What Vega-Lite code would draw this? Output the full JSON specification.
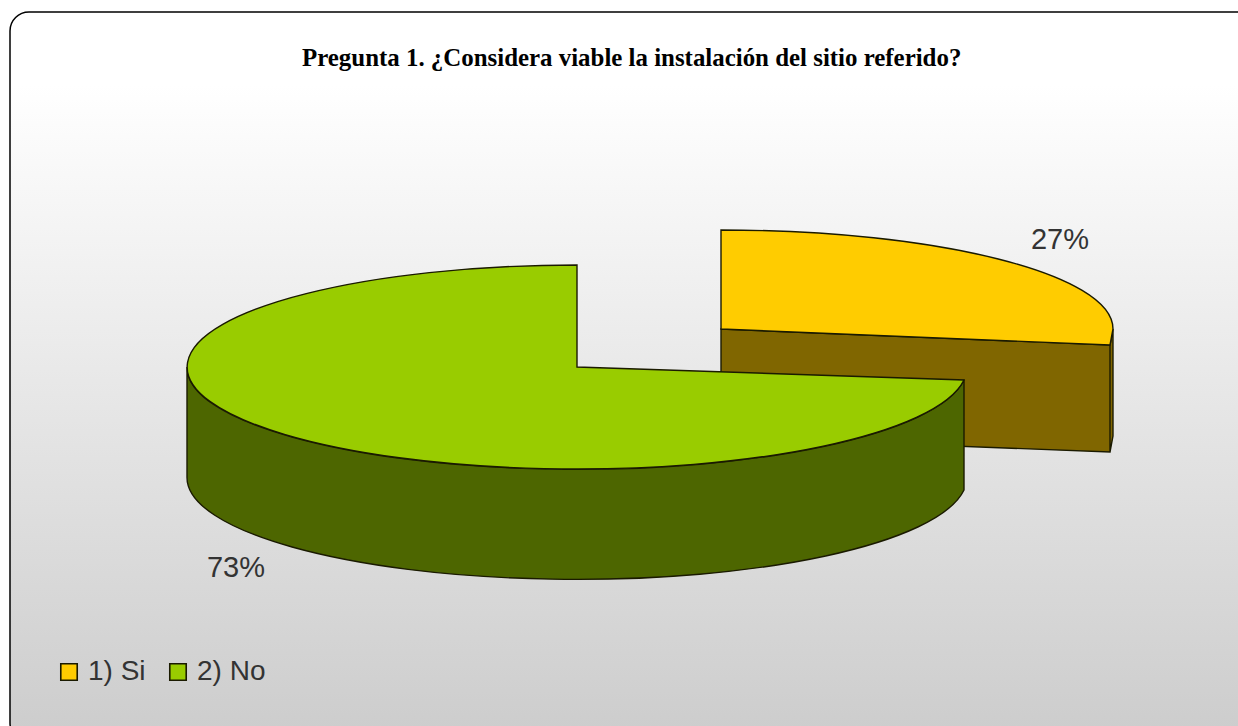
{
"$schema":"https://vega.github.io/schema/vega-lite/v6.json",
"autosize":"none",
"width":1260,"height":730,
"padding":{"left":10,"top":12,"right":-32,"bottom":-16},
"background":"white",
"view":{"stroke":"black","strokeWidth":1.5,"cornerRadius":19,"fill":{"gradient":"linear","x1":0,"y1":0,"x2":0,"y2":1,"stops":[{"offset":0,"color":"#ffffff"},{"offset":0.1,"color":"#ffffff"},{"offset":1,"color":"#cccccc"}]}},
"title":{"text":"Pregunta 1. ¿Considera viable la instalación del sitio referido?","font":"Liberation Serif","fontWeight":"bold","fontSize":24.9,"color":"black","anchor":"start","frame":"group","offset":-59,"dx":292,"align":"left"},
"data":{"values":[{"respuesta":"1) Si","porcentaje":0.27},{"respuesta":"2) No","porcentaje":0.73}]},
"layer":[
{"mark":{"type":"point","filled":true,"size":4,"opacity":1,"stroke":"#1a1a00","strokeWidth":1.4},
 "encoding":{
  "x":{"field":"respuesta","type":"nominal","axis":null,"scale":{"domain":["1) Si","2) No"],"range":[711,567],"padding":0}},
  "y":{"field":"respuesta","type":"nominal","axis":null,"scale":{"domain":["1) Si","2) No"],"range":[317,355],"padding":0}},
  "fill":{"field":"respuesta","type":"nominal","legend":null,"scale":{"domain":["1) Si","2) No"],"range":["#806600","#4D6600"]}},
  "shape":{"field":"respuesta","type":"nominal","legend":null,"scale":{"domain":["1) Si","2) No"],"range":[
   "M0,0 L389,16 L389,123 L0,108 Z M392,0 L389,16 L389,123 L392,107 Z",
   "M-390,0 L-390,110 A390,102 0 0 0 387,123 L387,13 A390,102 0 0 1 -390,0 Z"
  ]}}
 }},
{"mark":{"type":"point","filled":true,"size":4,"opacity":1,"stroke":"#1a1a00","strokeWidth":1.4},
 "encoding":{
  "x":{"field":"respuesta","type":"nominal","axis":null,"scale":{"domain":["1) Si","2) No"],"range":[711,567],"padding":0}},
  "y":{"field":"respuesta","type":"nominal","axis":null,"scale":{"domain":["1) Si","2) No"],"range":[317,355],"padding":0}},
  "color":{"field":"respuesta","type":"nominal","legend":null,"scale":{"domain":["1) Si","2) No"],"range":["#FFCC00","#99CC00"]}},
  "shape":{"field":"respuesta","type":"nominal","legend":null,"scale":{"domain":["1) Si","2) No"],"range":[
   "M0,0 L0,-99 A392,99 0 0 1 392,0 L389,16 Z",
   "M0,0 L0,-102 A390,102 0 1 0 387,13 Z"
  ]}}
 }},
{"mark":{"type":"text","font":"Liberation Sans","fontSize":29,"color":"#333"},
 "encoding":{
  "x":{"field":"respuesta","type":"nominal","axis":null,"scale":{"domain":["1) Si","2) No"],"range":[1050,226],"padding":0}},
  "y":{"field":"respuesta","type":"nominal","axis":null,"scale":{"domain":["1) Si","2) No"],"range":[228,556],"padding":0}},
  "text":{"field":"porcentaje","type":"quantitative","format":".0%"}
 }},
{"mark":{"type":"point","filled":true,"shape":"square","size":270,"opacity":1,"stroke":"#1a1a00","strokeWidth":1.6},
 "encoding":{
  "x":{"field":"respuesta","type":"nominal","axis":null,"scale":{"domain":["1) Si","2) No"],"range":[59,168],"padding":0}},
  "y":{"field":"respuesta","type":"nominal","axis":null,"scale":{"domain":["1) Si","2) No"],"range":[660,660],"padding":0}},
  "color":{"field":"respuesta","type":"nominal","legend":null,"scale":{"domain":["1) Si","2) No"],"range":["#FFCC00","#99CC00"]}}
 }},
{"mark":{"type":"text","font":"Liberation Sans","fontSize":28,"color":"#333","align":"left","baseline":"middle"},
 "encoding":{
  "x":{"field":"respuesta","type":"nominal","axis":null,"scale":{"domain":["1) Si","2) No"],"range":[78,187],"padding":0}},
  "y":{"field":"respuesta","type":"nominal","axis":null,"scale":{"domain":["1) Si","2) No"],"range":[660,660],"padding":0}},
  "text":{"field":"respuesta","type":"nominal"}
 }}
],
"resolve":{"scale":{"x":"independent","y":"independent","shape":"independent"}}
}
